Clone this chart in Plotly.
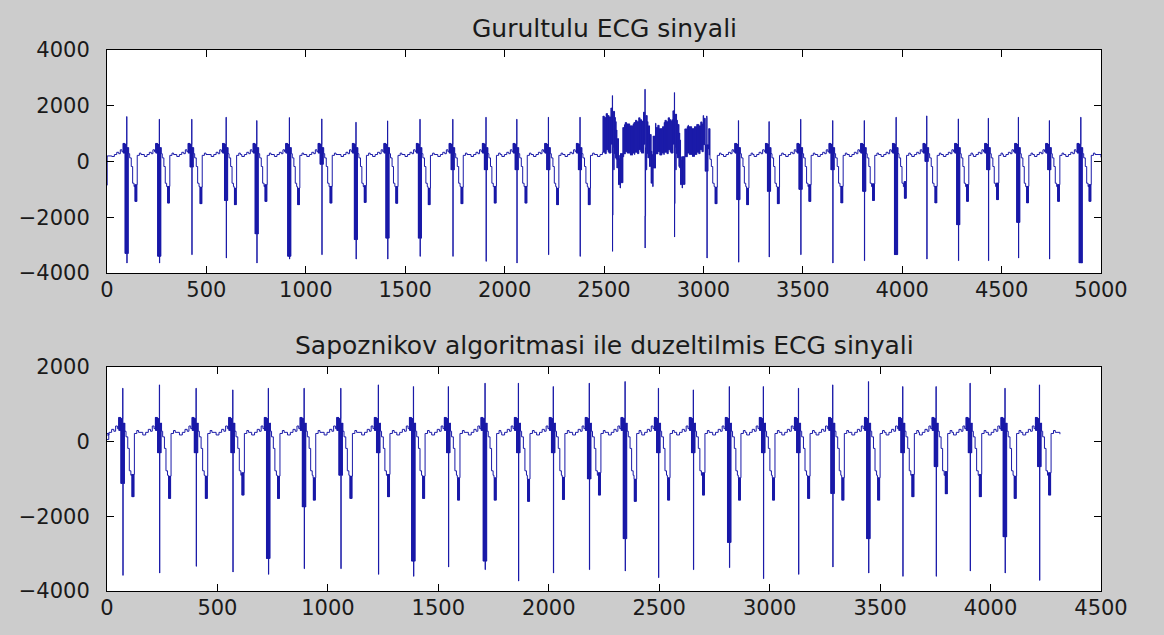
import numpy as np
import plotly.graph_objects as go

# ---------------- data ----------------
# Top panel: noisy ECG (per-beat values)
top_r_time = [99, 263, 426, 599, 753, 917, 1080, 1252, 1411, 1574, 1739, 1906, 2061, 2220, 2379,
              2542, 2706, 2854, 3017, 3176, 3330, 3489, 3650, 3809, 3969, 4123, 4282, 4433, 4584,
              4740, 4898]
top_r_peak = [1612, 1516, 1516, 1588, 1469, 1576, 1528, 1409, 1457, 1516, 1516, 1588, 1516, 1588, 1588,
              2364, 2591, 2472, 1636, 1469, 1433, 1516, 1469, 1469, 1588, 1636, 1528, 1552, 1588,
              1469, 1588]
top_s_peak = [-3642, -3642, -3343, -3463, -3642, -3500, -3343, -3500, -3500, -3403, -3403, -3582, -3642,
              -3343, -3403, -3224, -3104, -2710, -3463, -3612, -3427, -3343, -3642, -3558, -3343,
              -3500, -3558, -3558, -3463, -3500, -3642]
top_s_dense = [-3300, -3400, -200, -1400, -2600, -3400, -100, -2800, -2750, -2750, -300, -300, -300,
               -300, -300, -300, -300, -300, -300, -1370, -1070, -1000, -300, -1070, -3340, 0,
               -2270, -300, -2185, -300, -3640]
top_t_peak = [-1433, -1493, -1516, -1552, -1433, -1552, -1493, -1469, -1500, -1552, -1516, -1493, -1493,
              -1552, -1552, -1313, -836, -1373, -1516, -1552, -1516, -1433, -1490, -1400, -1320,
              -1490, -1430, -1370, -1490, -1430, -1430]
# Noise burst in the top panel: segment starts and band (offsets above the underlying signal)
noise_x = [2495, 2560, 2600, 2650, 2700, 2760, 2800, 2840, 2880, 2920, 2960, 3000, 3035]
noise_hi = [1300, 1000, 1100, 1150, 1150, 1000, 1150, 1200, 950, 1000, 1000, 900, 900]
noise_lo = [0, -50, 50, 0, 0, 50, 0, 0, -50, 0, 0, -50, 0]

# Bottom panel: corrected ECG (per-beat values)
bot_r_time = [71, 237, 403, 569, 730, 892, 1058, 1228, 1387, 1545, 1711, 1862, 2020, 2183, 2345,
              2496, 2654, 2817, 2971, 3130, 3285, 3447, 3602, 3753, 3907, 4065, 4221]
bot_r_peak = [1432, 1522, 1432, 1388, 1432, 1432, 1432, 1522, 1477, 1477, 1567, 1567, 1477, 1567, 1611,
              1432, 1388, 1477, 1477, 1432, 1522, 1611, 1477, 1477, 1567, 1432, 1522]
bot_s_peak = [-3581, -3518, -3339, -3491, -3554, -3402, -3402, -3554, -3607, -3357, -3428, -3733, -3518,
              -3428, -3464, -3643, -3428, -3375, -3670, -3554, -3357, -3518, -3607, -3607, -3464,
              -3518, -3715]
bot_s_dense = [-1120, -300, -300, -300, -3130, -1750, -900, -300, -3200, -300, -3200, -300, -300,
               -1000, -2600, -300, -300, -2700, -300, -300, -1390, -2600, -300, -670, -300, -2550,
               -670]
bot_t_peak = [-1477, -1522, -1522, -1432, -1522, -1567, -1522, -1477, -1522, -1567, -1567, -1600, -1550,
              -1432, -1600, -1567, -1432, -1567, -1567, -1522, -1567, -1567, -1477, -1400, -1477,
              -1522, -1432]

# Shape of one beat (offsets from the R wave, and levels)
pre_dx = [-75, -62, -50, -40, -32, -24]
pre_y = [180, 250, 330, 280, 420, 350]
post_dx = [8, 10, 15, 23, 30, 37]
post_y = [500, 280, 130, -180, -780, -900]
tail_dx = [53, 64, 72]
tail_y = [220, 300, 250]

top_title = "Gurultulu ECG sinyali"
bot_title = "Sapoznikov algoritmasi ile duzeltilmis ECG sinyali"
top_xticks = list(range(0, 5001, 500))
bot_xticks = list(range(0, 4501, 500))
top_yticks = [-4000, -2000, 0, 2000, 4000]
bot_yticks = [-4000, -2000, 0, 2000]


def beat_vertices(r, R, S, K, T):
    pts = [(r + d, y) for d, y in zip(pre_dx, pre_y)]
    for d in range(-18, -8):
        pts.append((r + d, 650 if d % 2 == 0 else 300))
    for d in range(-8, 0):
        pts.append((r + d, K if d % 2 == 0 else 620))
    pts += [(r, R), (r + 1, S)]
    for d in range(2, 7):
        pts.append((r + d, K if d % 2 == 0 else 500))
    pts += [(r + d, y) for d, y in zip(post_dx, post_y)]
    for d in range(41, 52):
        pts.append((r + d, T if d % 2 == 0 else T + 600))
    pts += [(r + d, y) for d, y in zip(tail_dx, tail_y)]
    return pts


def build(times, R, S, K, T, start, end):
    pts = list(start)
    for i in range(len(times)):
        pts += beat_vertices(times[i], R[i], S[i], K[i], T[i])
    pts += list(end)
    pts = [p for p in pts if p[0] <= end[-1][0]]
    return np.array([p[0] for p in pts], float), np.array([p[1] for p in pts], float)


tx, ty = build(top_r_time, top_r_peak, top_s_peak, top_s_dense, top_t_peak,
               [(0, -850), (1, 200)], [(5000, 150)])
bx, by = build(bot_r_time, bot_r_peak, bot_s_peak, bot_s_dense, bot_t_peak,
               [(0, 220), (8, 60)], [(4314, 200)])

# add the noise burst to the top signal (band between lo and hi, segment by segment)
grid = np.arange(noise_x[0], noise_x[-1], 2.0)
idx = np.searchsorted(tx, grid, side="right") - 1
seg = np.searchsorted(noise_x, grid, side="right") - 1
hi = np.array(noise_hi)[seg]
lo = np.array(noise_lo)[seg]
alt = np.where(np.arange(len(grid)) % 2 == 0, hi, lo)
ny = ty[idx] + alt
inside = (tx >= noise_x[0]) & (tx < noise_x[-1])
keep = ~inside | (ty > 1300) | (ty < -2000)
mx = np.concatenate([tx[keep], grid])
my = np.concatenate([ty[keep], ny])
order = np.argsort(mx, kind="stable")
tx2, ty2 = mx[order], my[order]

LINE = "#1a1aa8"
fig = go.Figure()
fig.add_trace(go.Scatter(x=tx2, y=ty2, mode="lines", line=dict(color=LINE, width=1, shape="hv"),
                         xaxis="x", yaxis="y", showlegend=False, hoverinfo="skip"))
fig.add_trace(go.Scatter(x=bx, y=by, mode="lines", line=dict(color=LINE, width=1, shape="hv"),
                         xaxis="x2", yaxis="y2", showlegend=False, hoverinfo="skip"))

FONT = dict(family="DejaVu Sans", size=21, color="#1a1a1a")
TFONT = dict(family="DejaVu Sans", size=25, color="#1a1a1a")
ax_common = dict(showgrid=False, zeroline=False, showline=True, linecolor="black", linewidth=1,
                 mirror="ticks", ticks="inside", ticklen=7, tickcolor="black", tickfont=FONT)

fig.update_layout(
    width=1164, height=635,
    margin=dict(l=107, r=63, t=50, b=44),
    paper_bgcolor="#cccccc", plot_bgcolor="white",
    xaxis=dict(domain=[0, 1], range=[0, 5000], tickvals=top_xticks, anchor="y",
               ticklabelstandoff=-2, **ax_common),
    yaxis=dict(domain=[0.5878, 1], range=[-4000, 4000], tickvals=top_yticks, anchor="x",
               ticklabelstandoff=12, **ax_common),
    xaxis2=dict(domain=[0, 1], range=[0, 4500], tickvals=bot_xticks, anchor="y2",
                ticklabelstandoff=-2, **ax_common),
    yaxis2=dict(domain=[0, 0.414], range=[-4000, 2000], tickvals=bot_yticks, anchor="x2",
                ticklabelstandoff=12, **ax_common),
    annotations=[
        dict(text=top_title, x=0.5, y=1, xref="paper", yref="paper", xanchor="center",
             yanchor="bottom", yshift=5, showarrow=False, font=TFONT),
        dict(text=bot_title, x=0.5, y=0.414, xref="paper", yref="paper", xanchor="center",
             yanchor="bottom", yshift=5, showarrow=False, font=TFONT),
    ],
)

fig.write_html("out.html", config={"displayModeBar": False},
               post_script="document.body.style.margin='0';"
                           "document.body.style.background='#cccccc';")
